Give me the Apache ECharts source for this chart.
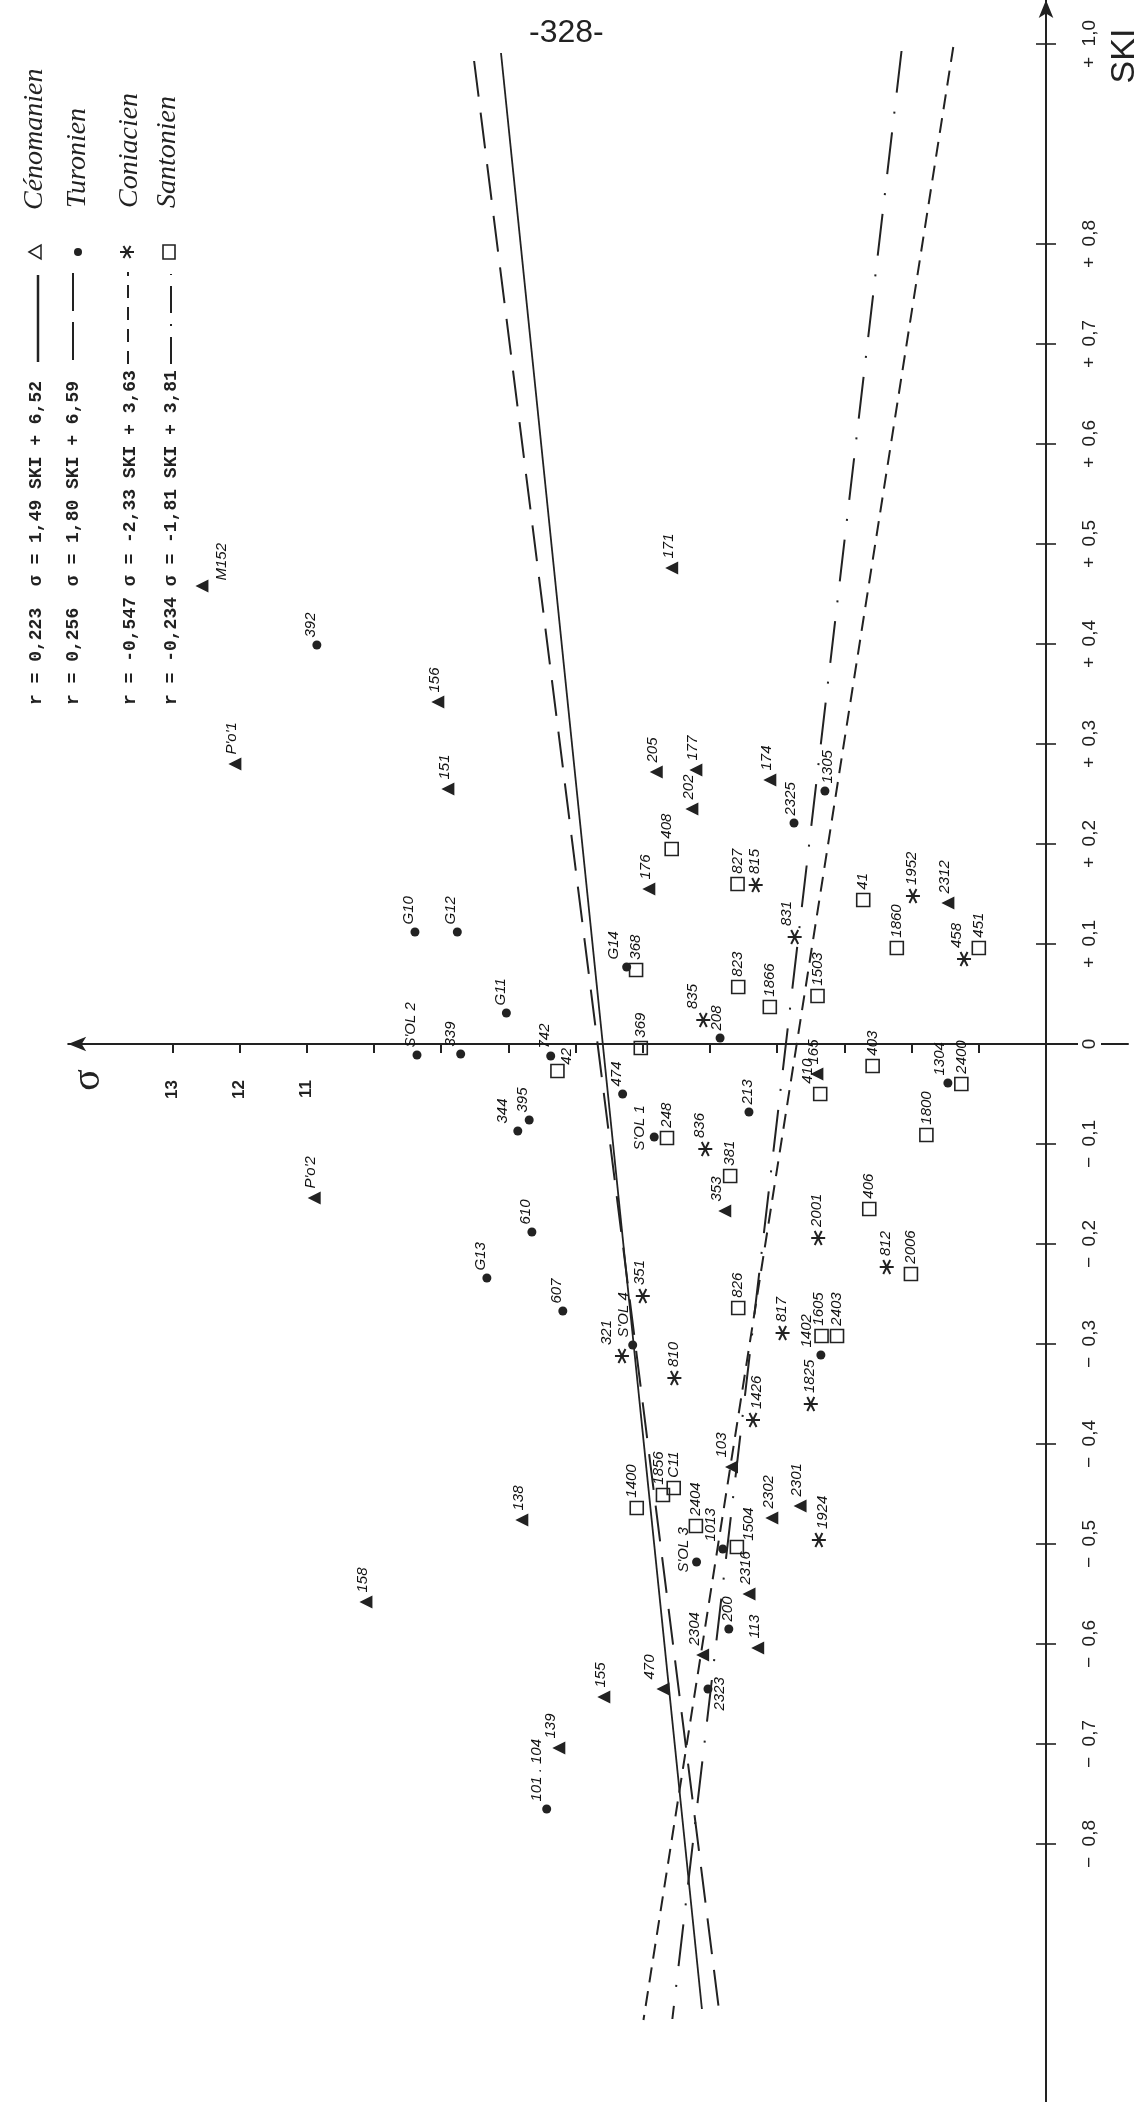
<!DOCTYPE html>
<html>
<head>
<meta charset="utf-8">
<style>html,body{margin:0;padding:0;background:#fff}#c{width:1145px;height:2102px}</style>
<script src="https://cdn.jsdelivr.net/npm/echarts@6/dist/echarts.min.js"></script>
</head>
<body>
<div id="c"></div>
<script>
// ---- Values (sigma, SKI, sample code) ----
const cenSigma = [5.57,12.07,9.05,8.90,12.56,5.80,5.21,5.27,4.11,5.91,1.46,3.41,10.89,4.78,4.68,7.80,4.08,3.66,10.12,4.42,4.29,5.11,5.70,6.58,7.25];
const cenSki   = [.476,.280,.342,.255,.458,.272,.274,.235,.264,.155,.141,-.030,-.154,-.167,-.423,-.476,-.474,-.462,-.558,-.550,-.604,-.611,-.645,-.653,-.704];
const cenCodes = ['171',"P'o'1",'156','151','M152','205','177','202','174','176','2312','165',"P'o'2",'353','103','138','2302','2301','158','2316','113','2304','470','155','139'];

const turSigma = [10.85,9.39,8.76,6.24,8.03,9.36,8.71,4.85,3.75,3.29,1.46,3.35,7.37,6.30,7.69,7.86,5.83,4.42,7.65,8.32,7.19,6.15,5.20,4.81,4.72,5.03,7.43];
const turSki   = [.399,.112,.112,.077,.031,-.011,-.010,.006,.221,.253,-.039,-.311,-.012,-.050,-.076,-.087,-.093,-.068,-.188,-.234,-.267,-.301,-.518,-.505,-.585,-.645,-.765];
const turCodes = ['392','G10','G12','G14','G11',"S'OL 2",'339','208','2325','1305','1304','1402','742','474','395','344',"S'OL 1",'213','610','G13','607',"S'OL 4","S'OL 3",'1013','200','2323','101 . 104'];

const conSigma = [4.32,3.74,5.10,1.98,1.22,3.39,2.37,5.07,6.00,6.31,5.53,3.92,4.36,3.50,3.38];
const conSki   = [.159,.107,.024,.148,.085,-.194,-.223,-.105,-.252,-.312,-.334,-.289,-.376,-.360,-.496];
const conCodes = ['815','831','835','1952','458','2001','812','836','351','321','810','817','1426','1825','1924'];

const sanSigma = [5.57,4.59,6.10,4.58,4.11,6.03,2.72,2.22,1.00,3.40,2.58,3.36,1.26,1.78,2.63,2.01,3.34,3.11,7.27,5.64,4.70,4.58,6.09,5.70,5.54,5.21,4.60];
const sanSki   = [.195,.160,.074,.057,.037,-.004,.144,.096,.096,.048,-.022,-.050,-.040,-.091,-.165,-.230,-.292,-.292,-.027,-.094,-.132,-.264,-.464,-.451,-.444,-.482,-.503];
const sanCodes = ['408','827','368','823','1866','369','41','1860','451','1503','403','410','2400','1800','406','2006','1605','2403','42','248','381','826','1400','1856','C11','2404','1504'];

// Regression lines: the two ends of each drawn line
const cenLineSigma = [8.11,5.12];  const cenLineSki = [.991,-.965];
const turLineSigma = [8.51,4.87];  const turLineSki = [.983,-.964];
const conLineSigma = [1.38,5.99];  const conLineSki = [.997,-.976];
const sanLineSigma = [2.15,5.56];  const sanLineSki = [.993,-.975];

// Axis ticks
const sigmaTicks  = [1,2,3,4,5,6,7,8,9,10,11,12,13];
const sigmaLabels = [11,12,13];
const skiTicks = [1,.8,.7,.6,.5,.4,.3,.2,.1,-.1,-.2,-.3,-.4,-.5,-.6,-.7,-.8];
const skiLabelValues = [1,.8,.7,.6,.5,.4,.3,.2,.1,0,-.1,-.2,-.3,-.4,-.5,-.6,-.7,-.8];
const skiLabelTexts  = ['+  1,0','+  0,8','+  0,7','+  0,6','+  0,5','+  0,4','+  0,3','+  0,2','+  0,1','0','−  0,1','−  0,2','−  0,3','−  0,4','−  0,5','−  0,6','−  0,7','−  0,8'];

// Legend text
const legendNames = ['Cénomanien','Turonien','Coniacien','Santonien'];
const legendEquations = [
  'r = 0,223  σ = 1,49 SKI + 6,52',
  'r = 0,256  σ = 1,80 SKI + 6,59',
  'r = -0,547 σ = -2,33 SKI + 3,63',
  'r = -0,234 σ = -1,81 SKI + 3,81'
];

// Hand placement of the labels, apart from the data: [right, down] in screen pixels
const labelDefaultRight = { 4: -3, 5: -6, 6: -1, 7: 0 };
const labelShift = {
  M152:[20,4],'103':[-10,0],'470':[-13,0],'353':[-8,0],'2304':[-8,0],'139':[-8,0],
  G14:[-13,0],'344':[-15,0],"S'OL 1":[-14,21],"S'OL 3":[-13,18],'1013':[-12,0],'2323':[12,29],
  '339':[-10,0],'1402':[-14,0],"S'OL 4":[-9,0],'101 . 104':[-10,0],'1304':[-8,0],'213':[-1,0],'200':[-1,0],'1305':[3,0],'208':[-3,0],'2325':[-3,0],
  '831':[-8,0],'835':[-10,0],'458':[-7,0],'321':[-15,0],'836':[-5,0],'351':[-3,0],'1426':[4,0],'1924':[4,0],
  '408':[-5,0],'410':[-12,0],'1504':[12,4],'1400':[-5,0],'1856':[-4,0],'42':[9,4],'1605':[-3,0]
};

const INK = '#222';
const LABEL_FONT = 'Liberation Sans';
const ASTERISK = 'path://M0,50L100,50M25,7L75,93M25,93L75,7';

function points(sig, ski, codes) {
  return sig.map((s, i) => ({ value: [s, ski[i]], name: codes[i] }));
}
// dx/dy act in the label's own frame, which is turned by 90 degrees here
function placeLabel(params) {
  const shift = labelShift[params.text] || [labelDefaultRight[params.seriesIndex] || 0, 0];
  return { dx: -shift[1], dy: shift[0], hideOverlap: false };
}
function pointSeries(name, sig, ski, codes, extra) {
  return Object.assign({
    name, type: 'scatter', data: points(sig, ski, codes), z: 5, clip: false,
    label: {
      show: true, position: 'top', distance: 3, rotate: 90, align: 'left', verticalAlign: 'middle',
      formatter: p => p.name, color: '#111', fontSize: 15, fontStyle: 'italic', fontFamily: LABEL_FONT
    },
    labelLayout: placeLabel
  }, extra);
}
function lineSeries(name, sig, ski, type, width) {
  return {
    name, type: 'line', data: sig.map((s, i) => [s, ski[i]]), showSymbol: false, symbol: 'none', z: 3, clip: false,
    silent: true, lineStyle: { color: INK, width, type, cap: 'butt' }
  };
}
function sideText(x, y, text, font, align) {
  return { type: 'text', x, y, rotation: Math.PI / 2, style: { text, font, fill: INK, textAlign: align || 'left', textVerticalAlign: 'middle' } };
}
function legendLine(x, y1, y2, dash, width) {
  return { type: 'line', shape: { x1: x, y1, x2: x, y2 }, style: { stroke: INK, lineWidth: width, lineDash: dash } };
}
const EQ_FONT = 'bold 18px "Liberation Mono"';
const NAME_FONT = 'italic 28px "Liberation Serif"';
const legendGraphics = [
  sideText(35, 210, legendNames[0], NAME_FONT),
  sideText(78, 208, legendNames[1], NAME_FONT),
  sideText(130, 208, legendNames[2], NAME_FONT),
  sideText(168, 208, legendNames[3], NAME_FONT),
  sideText(36, 705, legendEquations[0], EQ_FONT),
  sideText(73, 705, legendEquations[1], EQ_FONT),
  sideText(130, 705, legendEquations[2], EQ_FONT),
  sideText(171, 705, legendEquations[3], EQ_FONT),
  legendLine(38, 362, 275, null, 2.5),
  legendLine(73, 360, 272, [38, 11], 2),
  legendLine(128, 364, 272, [13, 9], 2),
  legendLine(171, 364, 274, [27, 11, 2, 11], 2),
  { type: 'polygon', shape: { points: [[29, 252], [41, 245], [41, 259]] }, style: { fill: 'none', stroke: INK, lineWidth: 1.5 } },
  { type: 'circle', shape: { cx: 78, cy: 252, r: 4 }, style: { fill: INK } },
  { type: 'polyline', shape: { points: [[120, 252], [134, 252]] }, style: { stroke: INK, lineWidth: 2, fill: 'none' } },
  { type: 'polyline', shape: { points: [[123.5, 246], [130.5, 258]] }, style: { stroke: INK, lineWidth: 2, fill: 'none' } },
  { type: 'polyline', shape: { points: [[123.5, 258], [130.5, 246]] }, style: { stroke: INK, lineWidth: 2, fill: 'none' } },
  { type: 'rect', shape: { x: 163, y: 245, width: 12, height: 14 }, style: { fill: 'none', stroke: INK, lineWidth: 1.6 } },
  // axis titles, standing beside the axes as in the reference
  sideText(1125, 56, 'SKI', '34px "Liberation Sans"', 'center'),
  sideText(88, 1080, 'σ', '40px "Liberation Serif"', 'center')
];

const chart = echarts.init(document.getElementById('c'), null, { renderer: 'canvas' });
chart.setOption({
  animation: false,
  backgroundColor: '#fff',
  title: { text: '-328-', left: 524, top: 12, textStyle: { color: INK, fontSize: 32, fontWeight: 'normal', fontFamily: 'Liberation Sans' } },
  grid: { left: 68.2, right: 17, top: 0, bottom: 0, containLabel: false, outerBoundsMode: 'none' },
  xAxis: {
    type: 'value', inverse: true, min: -1.22, max: 14.55, splitLine: { show: false },
    axisLine: { onZero: true, symbol: ['arrow', 'none'], symbolSize: [11, 18], lineStyle: { color: INK, width: 2 } },
    axisTick: { show: true, customValues: sigmaTicks, length: 9, lineStyle: { color: INK, width: 2 } },
    axisLabel: { customValues: sigmaLabels, rotate: 90, margin: -1022, color: INK, fontSize: 17, fontWeight: 'bold', fontFamily: LABEL_FONT }
  },
  yAxis: [{
    type: 'value', position: 'right', min: -1.058, max: 1.044, splitLine: { show: false },
    axisLine: { onZero: true, symbol: ['none', 'arrow'], symbolSize: [11, 18], lineStyle: { color: INK, width: 2 } },
    axisTick: { show: true, customValues: skiTicks, length: 10, lineStyle: { color: INK, width: 1.6 } },
    axisLabel: {
      customValues: skiLabelValues, rotate: 90, margin: -50, color: INK, fontSize: 19, fontFamily: LABEL_FONT,
      backgroundColor: '#fff', padding: [2, 6],
      formatter: v => skiLabelTexts[skiLabelValues.findIndex(t => Math.abs(t - v) < 1e-6)]
    }
  }, {
    type: 'value', position: 'left', min: -1.058, max: 1.044, splitLine: { show: false },
    axisLine: { show: false, onZero: true, onZeroAxisIndex: 0 },
    axisTick: { show: true, customValues: skiTicks, length: 10, lineStyle: { color: INK, width: 1.6 } },
    axisLabel: { show: false }
  }],
  graphic: legendGraphics,
  series: [
    lineSeries('Cénomanien (droite)', cenLineSigma, cenLineSki, 'solid', 1.8),
    lineSeries('Turonien (droite)', turLineSigma, turLineSki, [36, 16], 2),
    lineSeries('Coniacien (droite)', conLineSigma, conLineSki, [15, 9], 2),
    lineSeries('Santonien (droite)', sanLineSigma, sanLineSki, [42, 19, 2, 19], 2),
    pointSeries('Cénomanien', cenSigma, cenSki, cenCodes, { symbol: 'triangle', symbolRotate: 90, symbolSize: 13, itemStyle: { color: INK, opacity: 1 } }),
    pointSeries('Turonien', turSigma, turSki, turCodes, { symbol: 'circle', symbolSize: 9, itemStyle: { color: INK, opacity: 1 } }),
    pointSeries('Coniacien', conSigma, conSki, conCodes, { symbol: ASTERISK, symbolSize: 14, itemStyle: { color: INK, borderColor: INK, borderWidth: 2, opacity: 1 } }),
    pointSeries('Santonien', sanSigma, sanSki, sanCodes, { symbol: 'rect', symbolSize: 13, itemStyle: { color: 'transparent', borderColor: INK, borderWidth: 1.6, opacity: 1 } })
  ]
});
</script>
</body>
</html>
